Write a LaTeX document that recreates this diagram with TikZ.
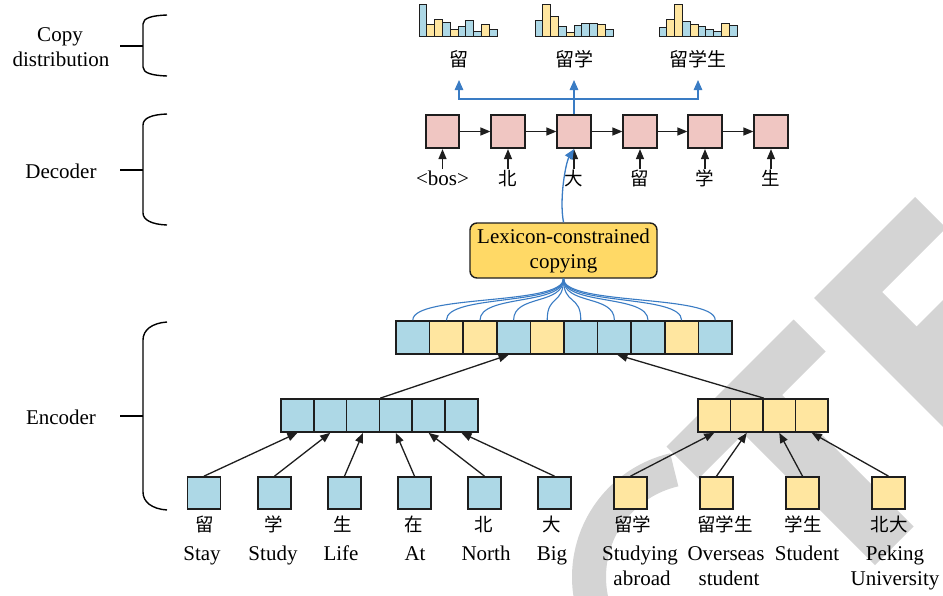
\documentclass[tikz,border=0pt]{standalone}
\usepackage{fontspec}
\setmainfont{Liberation Serif}
\newfontfamily\cjkfont{Noto Sans CJK SC}
\usetikzlibrary{arrows.meta}
\definecolor{colb}{RGB}{173,216,230}
\definecolor{coly}{RGB}{255,230,160}
\definecolor{colp}{RGB}{240,198,194}
\definecolor{colg}{RGB}{255,217,102}
\definecolor{lblue}{RGB}{58,124,196}
\definecolor{edgec}{RGB}{30,30,30}
\definecolor{wmark}{RGB}{212,212,212}
\begin{document}
\begin{tikzpicture}[x=1pt,y=-1pt,
 cell/.style={draw=edgec,line width=1.7pt,inner sep=0pt,minimum height=33pt},
 cellb/.style={cell,fill=colb},
 celly/.style={cell,fill=coly},
 cellp/.style={cell,fill=colp},
 arr/.style={draw=edgec,line width=1.3pt,-{Triangle[length=10pt,width=8pt]}},
 barr/.style={draw=lblue,line width=1.3pt,-{Triangle[length=10pt,width=8.5pt]}},
 bline/.style={draw=lblue,line width=1.1pt},
 brk/.style={draw=black,line width=1.4pt},
 en/.style={inner sep=0pt,anchor=base,font=\fontsize{21}{25}\selectfont},
 zh/.style={inner sep=0pt,anchor=base,font=\cjkfont\fontsize{18.5}{20}\selectfont},
 zhbig/.style={inner sep=0pt,anchor=base,font=\cjkfont\fontsize{19}{21}\selectfont},
 bar/.style={draw=edgec,line width=1pt}
]
\useasboundingbox (0,0) rectangle (943,595);
\fill[white] (0,0) rectangle (943,595);

% watermark
\begin{scope}
\clip (0,0) rectangle (943,595);
\fill[wmark] (915,197) -- (946,228) -- (882,292) -- (916.5,326.5) -- (980.5,262.5) -- (1159,441) -- (1058,542) -- (814,298) -- cycle;
\fill[wmark] (793.5,319.5) -- (825.5,351.5) -- (782,395) -- (913.5,526.5) -- (875,565) -- (743.5,433.5) -- (698.5,478.5) -- (666.5,446.5) -- cycle;
\draw[wmark,line width=34pt] plot[domain=150:257,samples=60] ({699+110*cos(\x)},{577+110*sin(\x)});
\end{scope}

% brackets and side labels
\draw[brk] (167,15) .. controls (152,15.5) and (143,18) .. (143,24) -- (143,67) .. controls (143,73) and (152,75.5) .. (167,76);
\draw[brk] (120,46) -- (143,46);
\draw[brk] (167,114) .. controls (152,114.5) and (143,118) .. (143,125) -- (143,213) .. controls (143,220) and (152,224.5) .. (167,225);
\draw[brk] (120,170) -- (143,170);
\draw[brk] (167,322) .. controls (152,323) and (143,330) .. (143,340) -- (143,492) .. controls (143,502) and (152,509) .. (167,510);
\draw[brk] (120,416) -- (143,416);
\node[en] (lc1) at (60,41.7) {Copy};
\node[en] (lc2) at (61,66.7) {distribution};
\node[en] (ldec) at (61,178) {Decoder};
\node[en] (lenc) at (61,424) {Encoder};

% histograms
\foreach \h/\c [count=\i] in {4/b,24/y,19/y,22/b,29/y,26/b,20/b,31/b,24/y,29/b}
  \draw[bar,fill=col\c] ({419+7.8*(\i-1)},36) rectangle ({419+7.8*\i},\h);
\foreach \h/\c [count=\i] in {20/b,4/y,16/y,26/b,32/y,25/b,23/b,23/b,24/y,29/b}
  \draw[bar,fill=col\c] ({535+7.8*(\i-1)},36) rectangle ({535+7.8*\i},\h);
\foreach \h/\c [count=\i] in {27/b,19/y,4/y,21/b,24/y,26/b,29/b,31/b,23/y,25/b}
  \draw[bar,fill=col\c] ({659+7.8*(\i-1)},36) rectangle ({659+7.8*\i},\h);
\node[zhbig] (h1) at (459,66.5) {留};
\node[zhbig] (h2) at (574,66.5) {留学};
\node[zhbig] (h3) at (698,66.5) {留学生};

% decoder
\foreach \x [count=\i] in {442.5,508,574,640,705,771}
  \node[cellp,minimum width=33.5pt,minimum height=33.5pt] (d\i) at (\x,131.5) {};
\foreach \i/\j in {1/2,2/3,3/4,4/5,5/6}
  \draw[arr] (d\i.east) -- (d\j.west);
\node[en] (in1) at (442.5,185.5) {\textless bos\textgreater};
\node[zh] (in2) at (508,185.5) {北};
\node[zh] (in3) at (574,185.5) {大};
\node[zh] (in4) at (640,185.5) {留};
\node[zh] (in5) at (705,185.5) {学};
\node[zh] (in6) at (771,185.5) {生};
\foreach \i in {1,...,6}
  \draw[arr] ([yshift=-20pt]d\i.south) -- (d\i.south);

% copy arrows
\coordinate (tp1) at (459,80);
\coordinate (tp2) at (574,80);
\coordinate (tp3) at (698,80);
\coordinate (jn) at (574,99);
\draw[barr] (d3.north) -- (tp2);
\draw[barr] (jn) -| (tp1);
\draw[barr] (jn) -| (tp3);

% lexicon box
\node[draw=edgec,line width=1.4pt,fill=colg,rounded corners=7pt,minimum width=187pt,minimum height=55pt,align=center,inner sep=0pt,font=\fontsize{21}{25}\selectfont] (lex) at (563.5,250.5) {Lexicon-constrained\\copying};
\draw[barr] (lex.north) .. controls (559,198) and (566,162) .. (d3.south);

% encoder top row
\foreach \c [count=\i] in {b,y,y,b,y,b,b,b,y,b}
  \node[cell\c,minimum width=33.6pt] (t\i) at ({379.2+33.6*\i},337.5) {};
\foreach \i in {1,...,10}
  \draw[bline] (lex.south) .. controls +(0,27) and +(0,-26) .. (t\i.north);

% encoder lower rows
\foreach \i in {1,...,6}
  \node[cellb,minimum width=32.8pt] (l\i) at ({264.6+32.8*\i},415.5) {};
\foreach \i in {1,...,4}
  \node[celly,minimum width=32.5pt] (r\i) at ({681.75+32.5*\i},415.5) {};
\draw[arr] (l3.north east) -- ([xshift=-5pt]t4.south);
\draw[arr] (r2.north east) -- ([xshift=3pt]t7.south);

\foreach \x [count=\i] in {204,274.5,344.5,414.5,484.5,554.5}
  \node[cellb,minimum width=33pt,minimum height=32pt] (bl\i) at (\x,493) {};
\foreach \x [count=\i] in {630.5,716.5,802.5,888.5}
  \node[celly,minimum width=33pt,minimum height=32pt] (br\i) at (\x,493) {};
\foreach \i in {1,...,6}
  \draw[arr] (bl\i.north) -- (l\i.south);
\foreach \i in {1,...,4}
  \draw[arr] (br\i.north) -- (r\i.south);

% bottom labels
\node[zh] (c1) at (204.5,531) {留};
\node[zh] (c2) at (273.5,531) {学};
\node[zh] (c3) at (342.5,531) {生};
\node[zh] (c4) at (414,531) {在};
\node[zh] (c5) at (483.5,531) {北};
\node[zh] (c6) at (552,531) {大};
\node[zh] (c7) at (632.5,531) {留学};
\node[zh] (c8) at (725,531) {留学生};
\node[zh] (c9) at (803,531) {学生};
\node[zh] (c10) at (889,531) {北大};

\node[en] (w1) at (202,560) {Stay};
\node[en] (w2) at (273,560) {Study};
\node[en] (w3) at (341,560) {Life};
\node[en] (w4) at (415,560) {At};
\node[en] (w5) at (486,560) {North};
\node[en] (w6) at (552,560) {Big};
\node[en] (w7) at (640,560) {Studying};
\node[en] (w7b) at (642,585) {abroad};
\node[en] (w8) at (726,560) {Overseas};
\node[en] (w8b) at (729,585) {student};
\node[en] (w9) at (807,560) {Student};
\node[en] (w10) at (895,560) {Peking};
\node[en] (w10b) at (895,585) {University};
\end{tikzpicture}
\end{document}
